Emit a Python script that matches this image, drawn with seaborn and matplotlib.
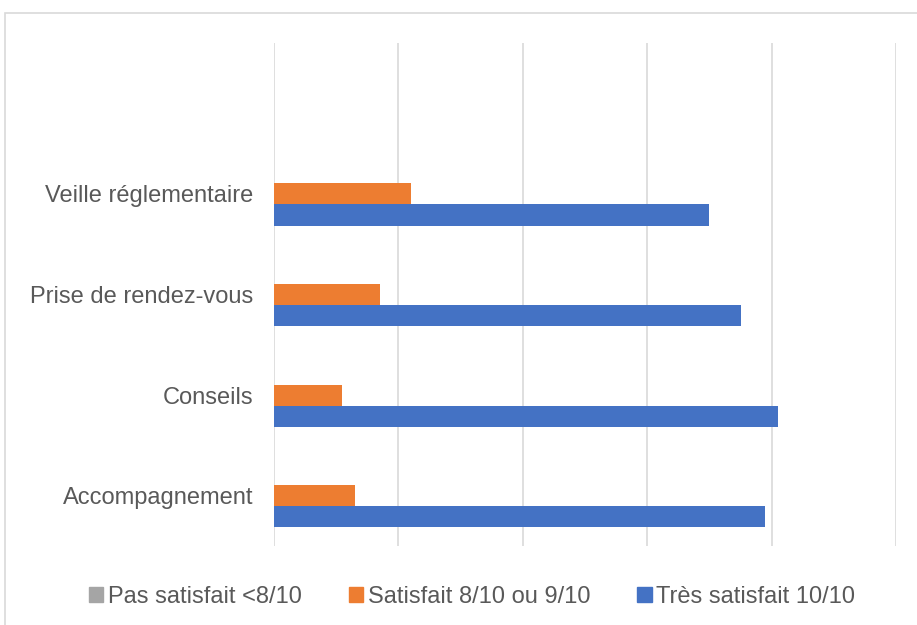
import pandas as pd
import matplotlib
matplotlib.use("Agg")
import matplotlib.pyplot as plt
import seaborn as sns
from matplotlib.patches import Rectangle

# ===============================
# Data
# ===============================
categories = ["Veille réglementaire", "Prise de rendez-vous", "Conseils", "Accompagnement"]
series_names = ["Pas satisfait <8/10", "Satisfait 8/10 ou 9/10", "Très satisfait 10/10"]
pas_satisfait = [0, 0, 0, 0]
satisfait = [22, 17, 11, 13]
tres_satisfait = [70, 75, 81, 79]

colors = ["#a5a5a5", "#ed7d31", "#4472c4"]
text_color = "#595959"
grid_color = "#d9d9d9"

df = pd.DataFrame({
    "categorie": categories * 3,
    "serie": [s for s in series_names for _ in categories],
    "valeur": pas_satisfait + satisfait + tres_satisfait,
})

sns.set_theme(style="white")
plt.rcParams["font.family"] = ["Liberation Sans", "DejaVu Sans"]

fig = plt.figure(figsize=(9.17, 6.25), dpi=100)
ax = fig.add_axes([274 / 917, 1 - 546 / 625, (896 - 274) / 917, (546 - 43) / 625])

sns.barplot(data=df, x="valeur", y="categorie", hue="serie", order=categories,
            hue_order=series_names, palette=colors, orient="h", width=0.63,
            saturation=1, linewidth=0, ax=ax, legend=False, errorbar=None)

ax.set_xlim(0, 100)
ax.set_ylim(3.5, -1.5)
ax.set_xticks([0, 20, 40, 60, 80, 100])
ax.set_xticklabels([])
ax.xaxis.grid(True, color=grid_color, linewidth=1.2)
ax.set_axisbelow(True)
ax.tick_params(axis="both", length=0)
ax.tick_params(axis="y", labelsize=17, labelcolor=text_color, pad=15)
ax.set_xlabel("")
ax.set_ylabel("")
for sp in ax.spines.values():
    sp.set_visible(False)

# legend at the bottom
handles = [Rectangle((0, 0), 1, 1, color=c) for c in colors]
fig.legend(handles, series_names, loc="center", bbox_to_anchor=(472 / 917, 1 - 597 / 625),
           ncol=3, frameon=False, fontsize=17, labelcolor=text_color,
           handlelength=0.6, handleheight=0.6, handletextpad=0.2, columnspacing=2.0)

# chart frame (cropped on the right and bottom)
fig.patches.append(Rectangle((5 / 917, -0.1), 1.2, 1 - 13 / 625 + 0.1,
                             transform=fig.transFigure, fill=False,
                             edgecolor=grid_color, linewidth=1.2))

fig.savefig("out.png", dpi=100)
